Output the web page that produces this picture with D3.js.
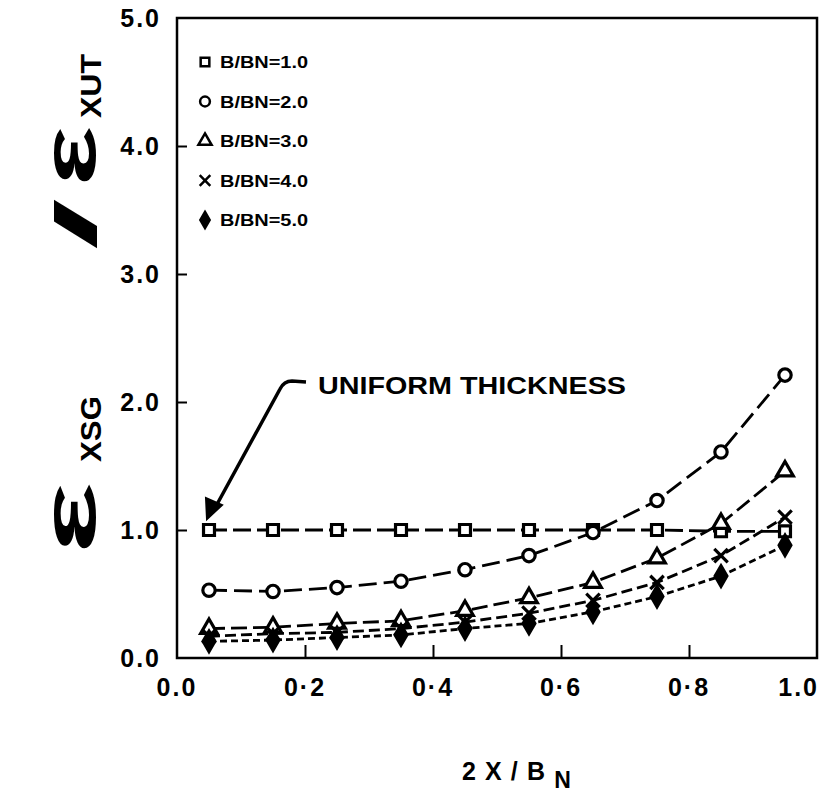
<!DOCTYPE html>
<html>
<head>
<meta charset="utf-8">
<script src="https://cdn.jsdelivr.net/npm/d3@7"></script>
<style>
  body { margin: 0; background: #fff; }
  svg { display: block; font-family: "Liberation Sans", Arial, sans-serif; }
</style>
</head>
<body>
<script>
// x positions of the computed points
const xValues = [0.05, 0.15, 0.25, 0.35, 0.45, 0.55, 0.65, 0.75, 0.85, 0.95];

// strain ratio for each B/BN
const ratio1 = [1.0, 1.0, 1.0, 1.0, 1.0, 1.0, 1.0, 1.0, 0.99, 0.99];
const ratio2 = [0.53, 0.52, 0.55, 0.60, 0.69, 0.80, 0.98, 1.23, 1.61, 2.21];
const ratio3 = [0.23, 0.24, 0.27, 0.29, 0.37, 0.47, 0.59, 0.78, 1.05, 1.46];
const ratio4 = [0.17, 0.19, 0.20, 0.23, 0.28, 0.35, 0.45, 0.59, 0.80, 1.10];
const ratio5 = [0.13, 0.14, 0.16, 0.18, 0.23, 0.27, 0.36, 0.48, 0.64, 0.88];

const legendLabels = ["B/BN=1.0", "B/BN=2.0", "B/BN=3.0", "B/BN=4.0", "B/BN=5.0"];
const xTicks = [0, 0.2, 0.4, 0.6, 0.8, 1.0];
const yTicks = [0, 1, 2, 3, 4, 5];

const series = [
  { name: legendLabels[0], values: ratio1, symbol: d3.symbolSquare, dash: "18,6", fill: "#fff" },
  { name: legendLabels[1], values: ratio2, symbol: d3.symbolCircle, dash: "18,7", fill: "#fff" },
  { name: legendLabels[2], values: ratio3, symbol: d3.symbolTriangle, dash: "16,6", fill: "#fff" },
  { name: legendLabels[3], values: ratio4, symbol: d3.symbolTimes || d3.symbolX, dash: "11,5", fill: "none" },
  { name: legendLabels[4], values: ratio5, symbol: d3.symbolDiamond, dash: "7,4", fill: "#000" }
];

const width = 836, height = 812;
const plot = { left: 177, right: 817, top: 18, bottom: 658 };

const svg = d3.select("body").append("svg")
  .attr("width", width)
  .attr("height", height);

const x = d3.scaleLinear().domain([0, 1]).range([plot.left, plot.right]);
const y = d3.scaleLinear().domain([0, 5]).range([plot.bottom, plot.top]);

// frame
svg.append("rect")
  .attr("x", plot.left).attr("y", plot.top)
  .attr("width", plot.right - plot.left).attr("height", plot.bottom - plot.top)
  .attr("fill", "none").attr("stroke", "#000").attr("stroke-width", 2.5);

// inward ticks
svg.append("g")
  .attr("transform", `translate(0,${plot.bottom})`)
  .call(d3.axisBottom(x).tickValues(xTicks.slice(1, -1)).tickSize(-13).tickFormat(""))
  .call(g => g.select(".domain").remove())
  .call(g => g.selectAll("line").attr("stroke-width", 2));

svg.append("g")
  .attr("transform", `translate(${plot.left},0)`)
  .call(d3.axisLeft(y).tickValues(yTicks.slice(1, -1)).tickSize(-10).tickFormat(""))
  .call(g => g.select(".domain").remove())
  .call(g => g.selectAll("line").attr("stroke-width", 2));

// tick labels
svg.append("g").selectAll("text")
  .data(xTicks).join("text")
  .attr("x", d => x(d))
  .attr("y", plot.bottom + 38)
  .attr("text-anchor", d => d === 1 ? "end" : "middle")
  .attr("dx", d => d === 1 ? 2 : 0)
  .attr("font-size", 25).attr("font-weight", "bold")
  .attr("letter-spacing", 2)
  .text(d => d3.format(".1f")(d).replace(".", d === 0 || d === 1 ? "." : "\u00b7"));

svg.append("g").selectAll("text")
  .data(yTicks).join("text")
  .attr("x", plot.left - 16)
  .attr("y", d => y(d) + 9)
  .attr("text-anchor", "end")
  .attr("font-size", 25).attr("font-weight", "bold")
  .attr("letter-spacing", 2)
  .text(d => d3.format(".1f")(d));

// y title, built along the rotated axis (local x = -screen y, local y = screen x)
const yTitle = svg.append("g")
  .attr("transform", "rotate(-90)")
  .attr("font-weight", "bold");
const yTitleParts = [
  { text: "\u03b5", from: 554, to: 482, base: 95, size: 76 },
  { text: "XSG", from: 462, to: 396, base: 101, size: 29 },
  { text: "/", from: 250, to: 198, base: 96, size: 58 },
  { text: "\u03b5", from: 186, to: 126, base: 95, size: 76 },
  { text: "XUT", from: 118, to: 54, base: 101, size: 29 }
];
yTitle.selectAll("text")
  .data(yTitleParts).join("text")
  .attr("x", d => -d.from)
  .attr("y", d => d.base)
  .attr("font-size", d => d.size)
  .attr("textLength", d => d.from - d.to)
  .attr("lengthAdjust", "spacingAndGlyphs")
  .text(d => d.text);

const xTitle = svg.append("text")
  .attr("x", 462).attr("y", 780)
  .attr("font-weight", "bold").attr("font-size", 25);
xTitle.append("tspan")
  .attr("textLength", 83)
  .attr("lengthAdjust", "spacing")
  .text("2X/B");
xTitle.append("tspan").attr("font-size", 23).attr("dy", 8).text("N");

// curves
const line = d3.line()
  .x((d, i) => x(xValues[i]))
  .y(d => y(d));

svg.append("g").selectAll("path")
  .data(series).join("path")
  .attr("d", d => line(d.values))
  .attr("fill", "none")
  .attr("stroke", "#000")
  .attr("stroke-width", 2.8)
  .attr("stroke-dasharray", d => d.dash);

// markers
const marker = d3.symbol().size(120);
series.forEach(s => {
  svg.append("g").selectAll("path")
    .data(s.values).join("path")
    .attr("transform", (d, i) => `translate(${x(xValues[i])},${y(d)})`)
    .attr("d", marker.type(s.symbol)())
    .attr("fill", s.fill)
    .attr("stroke", "#000")
    .attr("stroke-width", 3.2);
});

// legend
const legend = svg.append("g").attr("transform", "translate(205,62)");
const legendRow = legend.selectAll("g")
  .data(series).join("g")
  .attr("transform", (d, i) => `translate(0,${i * 39.5})`);
legendRow.append("path")
  .attr("d", d => d3.symbol().type(d.symbol).size(75)())
  .attr("fill", d => d.fill)
  .attr("stroke", "#000")
  .attr("stroke-width", 2.5);
legendRow.append("text")
  .attr("x", 15).attr("y", 6)
  .attr("font-size", 16).attr("font-weight", "bold")
  .attr("textLength", 88)
  .attr("lengthAdjust", "spacingAndGlyphs")
  .text(d => d.name);

// annotation
svg.append("text")
  .attr("x", 318).attr("y", 394)
  .attr("font-size", 24).attr("font-weight", "bold")
  .attr("textLength", 308)
  .attr("lengthAdjust", "spacingAndGlyphs")
  .text("UNIFORM THICKNESS");
svg.append("path")
  .attr("d", "M306,382 L292,381 Q284,381 280,389 L215,508")
  .attr("fill", "none").attr("stroke", "#000").attr("stroke-width", 3.5);
svg.append("path")
  .attr("d", "M207,519 L206,498 L222,505 Z")
  .attr("fill", "#000").attr("stroke", "#000").attr("stroke-width", 2);
</script>
</body>
</html>
